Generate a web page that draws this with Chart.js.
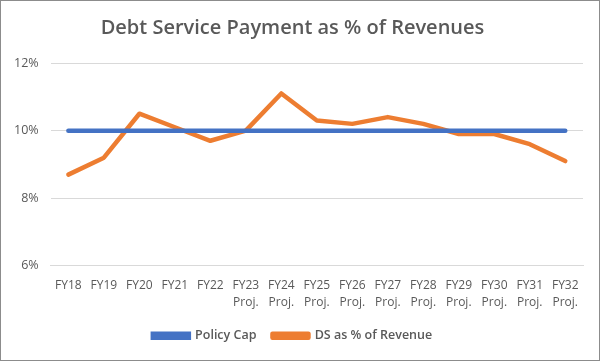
<!DOCTYPE html>
<html lang="en">
<head>
  <meta charset="UTF-8">
  <title>Debt Service Payment as % of Revenues</title>
  <script src="https://cdn.jsdelivr.net/npm/chart.js"></script>
  <style>
    html, body { margin: 0; padding: 0; background: #fff; }
    .chart-box {
      width: 600px; height: 361px; box-sizing: border-box;
      border: 1px solid #8c8c8c; position: relative;
    }
  </style>
</head>
<body>
  <div class="chart-box">
    <canvas id="dsChart" width="598" height="359"></canvas>
  </div>

  <script>
    // chart data
    const fiscalYears = [
      'FY18', 'FY19', 'FY20', 'FY21', 'FY22',
      ['FY23', 'Proj.'], ['FY24', 'Proj.'], ['FY25', 'Proj.'], ['FY26', 'Proj.'], ['FY27', 'Proj.'],
      ['FY28', 'Proj.'], ['FY29', 'Proj.'], ['FY30', 'Proj.'], ['FY31', 'Proj.'], ['FY32', 'Proj.']
    ];
    const policyCap = [10, 10, 10, 10, 10, 10, 10, 10, 10, 10, 10, 10, 10, 10, 10];
    const dsPctRevenue = [8.7, 9.2, 10.5, 10.1, 9.7, 10.0, 11.1, 10.3, 10.2, 10.4, 10.2, 9.9, 9.9, 9.6, 9.1];
    const yTicks = [6, 8, 10, 12];

    const textGray = '#595959';
    const fontFamily = "'Open Sans', 'Liberation Sans', sans-serif";

    new Chart(document.querySelector('#dsChart'), {
      type: 'line',
      data: {
        labels: fiscalYears,
        datasets: [
          {
            label: 'Policy Cap',
            data: policyCap,
            borderColor: '#4472C4',
            backgroundColor: '#4472C4',
            borderWidth: 4.5,
            pointRadius: 0,
            borderCapStyle: 'round'
          },
          {
            label: 'DS as % of Revenue',
            data: dsPctRevenue,
            borderColor: '#ED7D31',
            backgroundColor: '#ED7D31',
            borderWidth: 4.5,
            pointRadius: 0,
            borderCapStyle: 'round',
            borderJoinStyle: 'round'
          }
        ]
      },
      options: {
        responsive: false,
        animation: false,
        devicePixelRatio: 1,
        layout: { padding: { left: 1, right: 16, top: 5, bottom: 8 } },
        plugins: {
          title: {
            display: true,
            text: 'Debt Service Payment as % of Revenues',
            color: textGray,
            font: { family: fontFamily, size: 20, weight: '600' },
            padding: { top: 10, bottom: 23 }
          },
          legend: {
            position: 'bottom',
            labels: {
              color: textGray,
              font: { family: fontFamily, size: 12.5, weight: '600' },
              boxWidth: 36,
              boxHeight: 4,
              padding: 16
            }
          },
          tooltip: { enabled: false }
        },
        scales: {
          x: {
            offset: true,
            grid: { display: false },
            border: { color: '#d9d9d9' },
            ticks: {
              color: textGray,
              font: { family: fontFamily, size: 12, lineHeight: 1.4 },
              maxRotation: 0,
              autoSkip: false
            }
          },
          y: {
            min: 6,
            max: 12,
            afterBuildTicks: axis => { axis.ticks = yTicks.map(v => ({ value: v })); },
            grid: { color: '#d9d9d9', drawTicks: false },
            border: { display: false },
            ticks: {
              color: textGray,
              font: { family: fontFamily, size: 12.5 },
              padding: 12,
              callback: v => v + '%'
            }
          }
        }
      }
    });
  </script>
</body>
</html>
